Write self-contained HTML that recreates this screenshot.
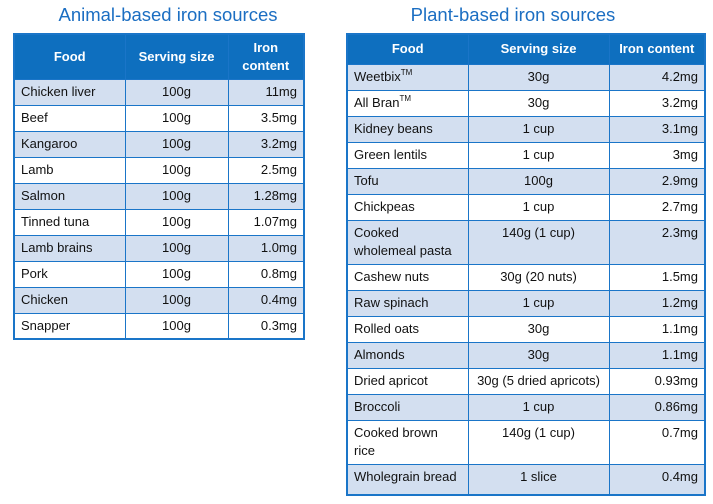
<!DOCTYPE html>
<html><head><meta charset="utf-8"><style>
body{margin:0;width:713px;height:504px;background:#fff;position:relative;font-family:"Liberation Sans",Arial,sans-serif;overflow:hidden}
.title{position:absolute;top:4px;font-size:18.5px;color:#1b6ec2;text-align:center}
table{position:absolute;border-collapse:collapse;table-layout:fixed;font-size:13px;color:#111;border:2px solid #1a75c8}
td,th{border:1.5px solid #1a75c8;padding:3px 6px 0 6px;line-height:18px;vertical-align:top;box-sizing:border-box;overflow:hidden}
th{background:#0e6fbf;color:#fff;font-weight:bold;text-align:center;vertical-align:middle;padding:0 4px;line-height:18px}
tr.a td{background:#d3dff0}
tr.b td{background:#fff}
td.c{text-align:center}
td.r{text-align:right}
sup{font-size:8px;line-height:0;vertical-align:baseline;position:relative;top:-6px}
</style></head><body>
<div class="title" style="left:13px;width:310px">Animal-based iron sources</div>
<div class="title" style="left:347px;width:332px">Plant-based iron sources</div>

<table style="left:13px;top:33px;width:290px">
<colgroup><col style="width:111px"><col style="width:103px"><col style="width:76px"></colgroup>
<tr style="height:45px"><th>Food</th><th>Serving size</th><th>Iron content</th></tr>
<tr class="a" style="height:26px"><td>Chicken liver</td><td class="c">100g</td><td class="r">11mg</td></tr>
<tr class="b" style="height:26px"><td>Beef</td><td class="c">100g</td><td class="r">3.5mg</td></tr>
<tr class="a" style="height:26px"><td>Kangaroo</td><td class="c">100g</td><td class="r">3.2mg</td></tr>
<tr class="b" style="height:26px"><td>Lamb</td><td class="c">100g</td><td class="r">2.5mg</td></tr>
<tr class="a" style="height:26px"><td>Salmon</td><td class="c">100g</td><td class="r">1.28mg</td></tr>
<tr class="b" style="height:26px"><td>Tinned tuna</td><td class="c">100g</td><td class="r">1.07mg</td></tr>
<tr class="a" style="height:26px"><td>Lamb brains</td><td class="c">100g</td><td class="r">1.0mg</td></tr>
<tr class="b" style="height:26px"><td>Pork</td><td class="c">100g</td><td class="r">0.8mg</td></tr>
<tr class="a" style="height:26px"><td>Chicken</td><td class="c">100g</td><td class="r">0.4mg</td></tr>
<tr class="b" style="height:26px"><td>Snapper</td><td class="c">100g</td><td class="r">0.3mg</td></tr>
</table>

<table style="left:346px;top:33px;width:358px">
<colgroup><col style="width:121px"><col style="width:141px"><col style="width:96px"></colgroup>
<tr style="height:30px"><th>Food</th><th>Serving size</th><th>Iron content</th></tr>
<tr class="a" style="height:26px"><td>Weetbix<sup>TM</sup></td><td class="c">30g</td><td class="r">4.2mg</td></tr>
<tr class="b" style="height:26px"><td>All Bran<sup>TM</sup></td><td class="c">30g</td><td class="r">3.2mg</td></tr>
<tr class="a" style="height:26px"><td>Kidney beans</td><td class="c">1 cup</td><td class="r">3.1mg</td></tr>
<tr class="b" style="height:26px"><td>Green lentils</td><td class="c">1 cup</td><td class="r">3mg</td></tr>
<tr class="a" style="height:26px"><td>Tofu</td><td class="c">100g</td><td class="r">2.9mg</td></tr>
<tr class="b" style="height:26px"><td>Chickpeas</td><td class="c">1 cup</td><td class="r">2.7mg</td></tr>
<tr class="a" style="height:44px"><td>Cooked wholemeal pasta</td><td class="c">140g (1 cup)</td><td class="r">2.3mg</td></tr>
<tr class="b" style="height:26px"><td>Cashew nuts</td><td class="c">30g (20 nuts)</td><td class="r">1.5mg</td></tr>
<tr class="a" style="height:26px"><td>Raw spinach</td><td class="c">1 cup</td><td class="r">1.2mg</td></tr>
<tr class="b" style="height:26px"><td>Rolled oats</td><td class="c">30g</td><td class="r">1.1mg</td></tr>
<tr class="a" style="height:26px"><td>Almonds</td><td class="c">30g</td><td class="r">1.1mg</td></tr>
<tr class="b" style="height:26px"><td>Dried apricot</td><td class="c">30g (5 dried apricots)</td><td class="r">0.93mg</td></tr>
<tr class="a" style="height:26px"><td>Broccoli</td><td class="c">1 cup</td><td class="r">0.86mg</td></tr>
<tr class="b" style="height:44px"><td>Cooked brown rice</td><td class="c">140g (1 cup)</td><td class="r">0.7mg</td></tr>
<tr class="a" style="height:31px"><td>Wholegrain bread</td><td class="c">1 slice</td><td class="r">0.4mg</td></tr>
</table>
</body></html>
